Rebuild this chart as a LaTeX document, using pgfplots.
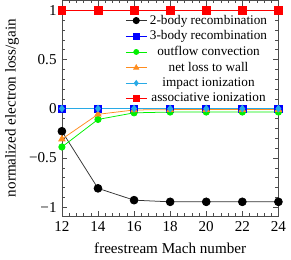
\documentclass[border=0pt]{standalone}
\usepackage{pgfplots}
\pgfplotsset{compat=1.18}
\usepackage{fontspec}
\setmainfont{Liberation Serif}
\definecolor{myorange}{RGB}{255,140,30}
\definecolor{mycyan}{RGB}{40,170,230}
\definecolor{mygreen}{RGB}{0,240,0}
\begin{document}
\begin{tikzpicture}
\begin{axis}[
  scale only axis,
  width=143.3pt, height=142.7pt,
  xmin=12, xmax=24, ymin=-1.09, ymax=1.1,
  xtick={12,14,...,24},
  ytick={-1,-0.5,0,0.5,1},
  yticklabels={−1,−0.5,0,0.5,1},
  minor x tick num=4, minor y tick num=4,
  major tick length=3.5pt, minor tick length=2pt,
  tick style={black!70},
  axis line style={black!70},
  /pgf/number format/assume math mode=true,
  tick label style={font=\fontsize{10}{12}\selectfont},
  label style={font=\fontsize{10}{12}\selectfont},
  xlabel={freestream Mach number},
  ylabel={normalized electron loss/gain},
  every axis x label/.style={at={(ticklabel cs:0.5)},anchor=north,yshift=-1pt},
  every axis y label/.style={at={(ticklabel cs:0.5)},anchor=south,rotate=90},
  legend style={draw=none, fill=none, at={(0.97,0.955)}, anchor=north east,
    font=\fontsize{8.75}{10}\selectfont, row sep=-1.2pt, inner sep=1pt},
  legend cell align=center,
  legend image post style={scale=0.8},
]
\addplot[black!80, line width=0.5pt, mark=*, mark size=2.6pt, mark options={fill=black, draw=black}]
  coordinates {(12,-0.23) (14,-0.81) (16,-0.93) (18,-0.947) (20,-0.947) (22,-0.947) (24,-0.947)};
\addlegendentry{2-body recombination}
\addplot[blue, line width=0.5pt, mark=square*, mark size=2.4pt, mark options={fill=blue}]
  coordinates {(12,0) (14,0) (16,0) (18,0) (20,0) (22,0) (24,0)};
\addlegendentry{3-body recombination}
\addplot[mygreen, line width=0.5pt, mark=*, mark size=2.1pt, mark options={fill=mygreen}]
  coordinates {(12,-0.39) (14,-0.11) (16,-0.043) (18,-0.035) (20,-0.035) (22,-0.035) (24,-0.035)};
\addlegendentry{outflow convection}
\addplot[myorange, line width=0.5pt, mark=triangle*, mark size=2.4pt, mark options={fill=myorange}]
  coordinates {(12,-0.31) (14,-0.058) (16,-0.014) (18,-0.01) (20,-0.01) (22,-0.01) (24,-0.01)};
\addlegendentry{net loss to wall}
\addplot[mycyan, line width=0.5pt, mark=diamond*, mark size=2.2pt, mark options={fill=mycyan}]
  coordinates {(12,0) (14,0) (16,0) (18,0) (20,0) (22,0) (24,0)};
\addlegendentry{impact ionization}
\addplot[red, line width=0.5pt, mark=square*, mark size=2.6pt, mark options={fill=red}]
  coordinates {(12,1) (14,1) (16,1) (18,1) (20,1) (22,1) (24,1)};
\addlegendentry{associative ionization}
\end{axis}
\end{tikzpicture}
\end{document}
